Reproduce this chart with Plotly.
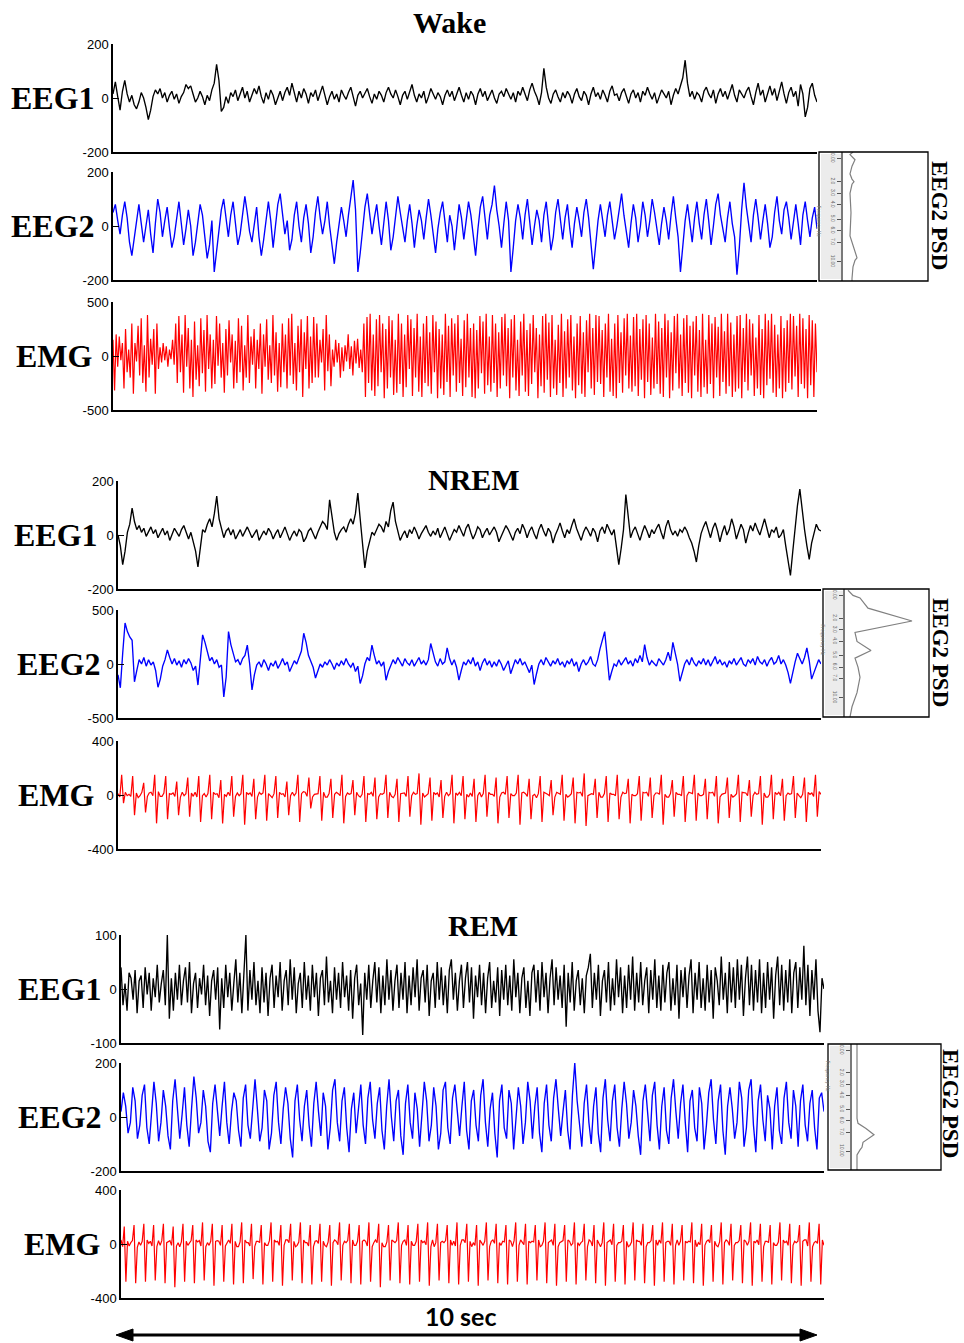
import numpy as np
import plotly.graph_objects as go

W, H = 964, 1343

# ---------------- data (values read/estimated from the picture) ----------------
stage_titles = ["Wake", "NREM", "REM"]
row_labels = ["EEG1", "EEG2", "EMG"]
psd_label = "EEG2 PSD"
scale_label = "10 sec"
psd_tick_labels = ["0.00", "2.0", "3.0", "4.0", "5.0", "6.0", "7.0", "10.00"]
psd_tick_pos = [5, 23, 32, 41, 52, 61, 70, 85]
psd_axis_title = "Frequency Hz"

wake_eeg1 = [
    15, 60, 5, -45, 25, 65, 15, -15, 10, -25,
    -40, -15, 20, 0, -35, -80, -45, 5, 30, 15,
    35, 0, 20, -15, 10, 25, -5, 15, -20, 5,
    20, 50, 35, 45, 15, -15, 0, 25, 5, -25,
    10, -10, 30, 55, 125, 65, -50, -35, 5, -20,
    20, 5, 30, -10, 15, 40, 0, 25, -15, 10,
    35, 15, 45, 5, -20, 20, -5, 30, 10, -25,
    5, 25, -10, 20, 40, 10, 55, 15, -15, 25,
    0, 35, 15, -20, 20, 5, 30, -10, 15, 45,
    10, -25, 5, 25, -5, 15, -15, 30, 10, -5,
    20, 40, 5, -30, 10, 25, 0, 15, 35, 5,
    -20, 15, -5, 25, 10, -15, 20, 40, 15, 0,
    30, 5, -25, 10, 25, -5, 20, 50, 10, -15,
    15, 0, 25, -20, 5, 35, 15, -5, 20, 5,
    -25, 10, 30, 5, 25, -10, 15, 40, 10, -15,
    20, -5, 25, 10, -25, 15, 35, 5, 25, -10,
    10, 30, 0, -20, 15, 25, 5, 35, 15, -5,
    20, -15, 25, 10, 40, 15, -10, 30, 55, 25,
    5, -25, 20, 110, 40, 0, -20, 15, 30, 5,
    -15, 20, 0, 25, 10, -20, 15, 35, 5, -10,
    25, 10, -25, 15, 40, 5, 20, -5, 30, 10,
    -15, 25, 45, 10, 15, -10, 20, 35, 5, -20,
    15, 30, 0, 20, -15, 25, 10, 40, 15, -5,
    20, -20, 5, 30, 15, 0, 25, -25, 10, 35,
    15, 45, 75, 140, 55, 5, 25, -5, 20, 10,
    -15, 25, 40, 15, 0, 30, -20, 15, 35, 5,
    25, -5, 20, 50, 10, -15, 30, 15, 0, 25,
    40, 5, -25, 20, 55, 10, 30, -15, 15, 45,
    10, 35, -10, 25, 60, 15, -20, 20, 40, 5,
    25, -30, 50, 15, -70, -35, 35, 55, 10, -15,
]

wake_eeg2 = [
    50, 80, 20, -30, 40, 90, 30, -60, -110, -40,
    20, 80, 10, -60, 0, 60, -30, -100, 10, 100,
    50, -40, 20, 70, -10, -80, -40, 30, 90, 10,
    -70, -10, 60, 0, -110, -60, 10, 80, 40, -50,
    -120, -70, 20, -170, -90, 0, 60, 100, 20, -40,
    40, 90, 10, -70, -30, 50, 110, 50, -20, -60,
    10, 70, -40, -110, -50, 30, 90, 20, -80, 0,
    80, 120, 40, -30, 20, -90, -50, 40, 90, 0,
    -60, 30, 80, 10, -100, -40, 50, 110, 30, -30,
    20, 90, 0, -80, -140, -60, 10, 70, 20, -40,
    40, 100, 170, 60, -170, -100, 0, 70, 120, 40,
    -30, 30, 80, 0, -70, 10, 90, 20, -90, -40,
    40, 110, 50, -10, -60, 20, 80, 10, -80, 0,
    60, 20, -50, 30, 100, 40, -40, -100, -10, 50,
    90, 10, -60, 40, 0, -90, 10, 80, 30, -50,
    20, 90, 40, -40, -110, -10, 70, 110, 20, -50,
    40, 80, 150, 60, 0, -80, 10, 90, 20, -170,
    -80, 20, 80, 30, -50, 40, 100, 10, -70, 0,
    60, 20, -60, 40, 90, 0, -90, -40, 50, 100,
    20, -50, 30, 80, -10, -80, 10, 70, 20, -40,
    50, 100, 30, -60, -160, -70, 20, 80, 10, -40,
    40, 90, 20, -50, 0, 70, 120, 40, -30, -80,
    10, 80, 30, -60, 0, 90, 40, -40, 20, 100,
    50, -10, -70, 10, 70, 20, -50, 40, 110, 30,
    -40, -170, -80, 20, 80, 0, -60, 30, 90, 10,
    -50, 40, 100, 20, -70, 0, 80, 120, 40, -10,
    -60, 30, 90, 10, -40, -180, -80, 60, 160, 70,
    0, -60, 40, 100, 30, -50, 20, 80, 10, -80,
    -40, 50, 110, 20, -30, 60, 90, 30, -50, 20,
    80, 10, -70, 40, 90, 20, -40, 30, 70, -10,
]

wake_emg = [
    150, -320, 200, -100, 180, -40, 120, -300, 250, -150,
    60, -200, 300, -350, 120, -50, 280, -180, 350, -250,
    100, -330, 380, -200, 160, -80, 250, -350, 300, -120,
    80, -60, 120, -40, 90, -100, 60, -30, 150, -80,
    300, -250, 370, -150, 200, -340, 380, -100, 260, -300,
    150, -380, 320, -220, 100, -280, 350, -160, 240, -330,
    380, -120, 200, -300, 150, -260, 370, -90, 300, -200,
    120, -340, 250, -180, 330, -60, 200, -300, 140, -250,
    350, -150, 280, -320, 100, -200, 380, -250, 180, -80,
    250, -300, 150, -120, 300, -350, 200, -100, 340, -220,
    100, -250, 380, -180, 220, -330, 120, -290, 300, -150,
    200, -300, 350, -180, 390, -260, 120, -320, 280, -150,
    340, -380, 220, -120, 370, -300, 180, -250, 360, -200,
    300, -200, 150, -60, 250, -320, 380, -140, 200, -280,
    60, -100, 150, -60, 120, -200, 80, -140, 100, -50,
    200, -120, 90, -180, 140, -70, 160, -110, 60, -150,
    300, -380, 360, -250, 390, -320, 200, -370, 340, -280,
    380, -150, 300, -390, 250, -300, 370, -200, 330, -360,
    150, -340, 390, -260, 300, -380, 200, -290, 380, -120,
    340, -370, 260, -200, 390, -330, 180, -380, 300, -250,
    370, -280, 220, -350, 380, -150, 320, -390, 250, -300,
    200, -360, 390, -240, 280, -380, 350, -180, 300, -330,
    380, -250, 160, -370, 330, -290, 390, -200, 260, -380,
    300, -390, 240, -300, 370, -160, 320, -350, 390, -270,
    180, -330, 380, -250, 300, -380, 220, -300, 360, -180,
    390, -280, 260, -390, 340, -200, 380, -320, 150, -370,
    320, -180, 390, -330, 240, -370, 300, -260, 380, -150,
    260, -390, 200, -280, 370, -340, 390, -220, 310, -380,
    380, -300, 150, -360, 290, -250, 390, -380, 230, -300,
    340, -200, 380, -320, 180, -390, 300, -270, 370, -350,
    220, -380, 330, -150, 390, -300, 260, -360, 380, -240,
    370, -260, 240, -380, 300, -200, 390, -330, 160, -370,
    300, -390, 380, -250, 220, -340, 350, -180, 390, -300,
    190, -330, 360, -280, 390, -370, 250, -220, 340, -390,
    380, -240, 300, -360, 170, -300, 390, -260, 320, -350,
    260, -380, 390, -200, 330, -390, 220, -320, 370, -160,
    390, -300, 200, -370, 350, -250, 380, -340, 280, -390,
    320, -180, 370, -330, 240, -380, 390, -290, 150, -350,
    380, -260, 300, -390, 360, -200, 270, -370, 390, -240,
    230, -350, 390, -280, 310, -380, 200, -330, 370, -300,
    380, -390, 260, -240, 390, -320, 340, -180, 300, -370,
    170, -300, 380, -360, 250, -390, 390, -270, 330, -210,
    390, -340, 290, -380, 200, -300, 370, -390, 260, -330,
    330, -250, 390, -310, 370, -190, 280, -380, 390, -260,
    350, -300, 250, -390, 380, -270, 330, -380, 300, -150,
]

nrem_eeg1 = [
    0, -40, -110, -60, 10, 40, 100, 50, 20, 35,
    10, 25, -5, 15, 30, 5, 20, -10, 10, 25,
    0, 15, -20, 5, 25, 10, -5, 20, 35, 10,
    -15, 10, -30, -60, -118, -40, 20, 10, 40, 60,
    30, 80, 144, 60, 20, -10, 15, 25, 0, 20,
    -15, 5, 20, -5, 15, 30, 10, -10, 5, 20,
    -20, -5, 15, 0, 25, 10, -15, 5, 20, -10,
    10, 30, 5, -20, 0, 15, -5, 20, 10, -25,
    -10, 15, 25, 5, -15, 10, 30, 50, 40, 20,
    130, 60, 10, -20, 5, 20, 30, 10, 40, 60,
    40, 80, 155, 60, -40, -122, -60, -20, 10, 0,
    20, 40, 30, 10, 50, 30, 90, 122, 50, 10,
    -20, 0, 15, -10, 20, 5, 30, 10, -15, 5,
    20, 35, 10, -5, 15, 0, 25, -10, 10, 30,
    5, -20, 0, 20, 10, 35, 15, -5, 25, 40,
    10, -15, 5, 30, 20, -10, 10, 25, 0, 15,
    30, 10, -25, -5, 15, 35, 20, 0, -20, 10,
    25, 5, 40, 20, -10, 15, 30, 5, -15, 20,
    40, 15, -5, 25, 10, -30, 0, 20, 45, 15,
    -10, 20, 5, 35, 60, 25, 0, -20, 10, 30,
    15, -5, 25, 10, -25, 15, 30, 5, 40, 20,
    0, 20, -40, -110, -50, 20, 150, 60, -10, 15,
    30, 5, -20, 10, 35, 15, -10, 20, 5, 25,
    40, 10, -15, 30, 55, 20, 0, 15, -5, 20,
    10, 30, 15, -10, -30, -60, -100, -40, 5, 30,
    50, 20, -10, 25, 45, 15, -25, 10, 35, 0,
    20, 60, 30, -15, 10, 40, 20, -30, 5, 35,
    15, 45, 20, 0, 30, 60, 25, -10, 20, 10,
    30, -10, 0, 20, -40, -100, -150, -60, 40, 110,
    170, 90, 20, -40, -90, -30, 10, 40, 20, 15,
]

nrem_eeg2 = [
    -100, -220, 100, 380, 300, 250, 220, -165, -60, 40,
    0, 60, -20, 40, -10, 20, -60, -215, -140, -20,
    40, 130, 60, 0, 50, -10, 30, -30, 40, 0,
    50, 10, -60, -20, -195, 60, 270, 200, 100, 30,
    60, 0, 40, -30, -10, -305, -120, 300, 180, 90,
    20, 40, -10, 50, 80, 175, 0, -240, -100, -10,
    20, -30, 40, 0, -60, 10, -20, 30, -40, 0,
    50, -10, 20, -70, -20, 30, 0, 60, 120, 285,
    200, 80, 20, -30, -130, -70, 0, -30, 20, -10,
    40, 0, -50, 10, -20, 30, -10, 50, 0, -30,
    10, -70, -20, -180, -110, 0, 60, 30, 175, 80,
    0, 30, -20, 20, -150, -70, -10, 40, 0, 60,
    20, -20, 50, 10, -10, 40, -20, 20, 60, 0,
    30, -10, 40, 190, 90, 20, -20, 50, 0, 20,
    150, 50, -10, 40, -30, -150, -60, 20, -10, 40,
    0, 60, -20, 20, -60, 10, 50, -10, 30, -30,
    20, -20, 40, 0, -60, -10, 30, -90, -20, 40,
    0, 50, -10, 20, -30, -80, -10, -190, -90, 0,
    40, -10, 60, 20, -20, 30, 0, 50, -10, 20,
    -30, 30, 0, 50, -20, 20, -70, 0, 40, -10,
    20, 70, 0, -20, 40, 140, 220, 300, 80, -150,
    -70, 0, -20, 40, -10, 20, 60, 0, 30, -20,
    50, 10, 80, 20, 180, 60, -10, 30, 0, -20,
    50, 20, -10, 40, 110, 30, 200, 100, 0, -160,
    -80, 0, 40, -10, 60, 10, -20, 30, 0, 50,
    -10, 40, -20, 20, 70, 0, 40, -10, 20, -30,
    30, 0, 50, -10, 20, 60, 0, -20, 40, 10,
    50, -10, 70, 20, 0, 40, -20, 30, 60, 0,
    20, 80, 0, 40, -10, -80, -180, -70, 20, 100,
    40, 0, 60, 150, 30, -140, -80, -20, 40, 0,
]

nrem_emg = [
    10, -15, 150, -60, 20, -5, 5, -10, 140, -150, 15, -20, -5, 20, 90, -130, -10, 15, 20, -5, 150, -210, 25, -10,
    -10, 15, 140, -180, 10, 5, 15, -10, 100, -150, -15, 20, -5, 10, 130, -160, 15, -10, 20, -15, 140, -200, -5, 10,
    -15, 10, 150, -180, 20, 5, 10, -20, 110, -210, 5, -10, 20, -5, 140, -160, -10, 15, -5, 10, 150, -220, 20, 5,
    15, -10, 120, -180, -15, 20, 5, 15, 150, -190, 10, -5, -20, 10, 140, -170, 20, 5, 10, -15, 100, -150, -5, 20,
    -5, 15, 150, -200, 10, 25, 20, -10, 130, -100, -15, 5, 5, 10, 140, -190, 20, -15, -15, 10, 120, -170, 5, 20,
    10, -5, 150, -210, -10, 15, 5, 10, 110, -150, 20, -5, -15, 5, 140, -200, 10, 5, 20, -10, 130, -180, -15, 10,
    5, 15, 150, -170, 20, -10, -20, 5, 120, -200, 10, 15, 15, -10, 140, -160, -5, 20, 5, 10, 160, -220, 15, -15,
    -5, 10, 130, -190, 20, 5, 15, -15, 110, -170, -10, 20, -5, 10, 150, -210, 15, 0, 20, -5, 140, -180, 5, -15,
    15, -10, 120, -200, -5, 20, -15, 10, 150, -160, 20, 5, 5, -10, 130, -210, -15, 15, 20, 5, 140, -170, 10, -5,
    -5, 15, 150, -220, 15, 20, 10, -10, 120, -180, -5, 5, -20, 10, 140, -200, 20, 15, 5, -5, 110, -150, -15, 20,
    15, 5, 150, -190, 5, -15, -5, 10, 130, -210, 20, 15, 20, -10, 160, -230, -5, 5, 10, 5, 120, -170, 20, -15,
    -15, 10, 140, -200, 15, 5, 5, -5, 150, -180, -15, 20, 10, 15, 120, -210, 5, -5, -5, 10, 140, -190, 20, 15,
    20, -10, 130, -170, -5, 15, 15, 5, 150, -220, 5, -15, -15, 10, 110, -160, 20, 5, 5, -5, 140, -200, -5, 20,
    15, 10, 150, -190, 15, -5, -5, 5, 120, -180, 20, 15, 20, -10, 140, -210, -15, 5, 10, 15, 130, -170, 5, -15,
    -5, 10, 150, -200, 20, 15, 15, -5, 110, -160, -5, 20, 5, 10, 140, -220, 15, -15, -15, 5, 150, -180, 20, 5,
    20, -5, 120, -190, -5, 15, 5, 10, 140, -170, 15, -5, -20, 5, 130, -200, 20, 5, 15, -10, 150, -160, 25, 5,
]

rem_eeg1 = [
    40, -30, 10, -40, 30, 20, -20, 35, -45, 15,
    25, -35, 40, -10, 30, -40, 20, -15, 45, -25,
    10, 35, -30, 100, -55, 20, -40, 30, -20, 45,
    -30, 15, 40, -25, 50, -45, 10, 30, -35, 20,
    -10, 45, -30, 25, -50, 15, 35, -20, 40, -75,
    20, -35, 45, -15, 30, -40, 10, 55, -25, 30,
    -45, 20, 100, -40, 35, -20, 50, -30, 15, -45,
    40, -25, 30, -50, 20, 45, -35, 25, -15, 50,
    -40, 15, 35, -30, 55, -20, 40, -45, 10, 30,
    -35, 50, -20, 25, -40, 45, -15, 30, -50, 20,
    35, -30, 60, -25, 15, -45, 40, -20, 30, -35,
    50, -15, 25, -40, 35, -55, 20, 45, -30, 10,
    -85, 30, -20, 45, -35, 15, 50, -25, 40, -45,
    25, -30, 55, -20, 35, -40, 15, 45, -35, 30,
    -20, 50, -45, 25, -30, 40, -15, 55, -40, 20,
    35, -25, 45, -50, 15, 30, -35, 50, -20, 40,
    -30, 25, -45, 35, 55, -20, 30, -40, 15, 45,
    -35, 20, 50, -25, 40, -55, 25, -15, 45, -30,
    30, -45, 20, 50, -35, 15, -25, 40, -50, 35,
    -20, 45, -30, 25, -40, 55, -15, 30, -45, 20,
    40, -35, 15, -50, 30, 45, -25, 35, -40, 50,
    -15, 30, -45, 20, 55, -30, 40, -20, 25, -35,
    45, -70, 30, -25, 50, -40, 15, 35, -30, 20,
    -45, 25, 40, 65, -35, 30, -20, 45, -50, 15,
    35, -25, 50, -40, 20, -30, 55, -15, 40, -45,
    25, -35, 45, -20, 60, -40, 30, -25, 50, -30,
    15, 40, -45, 35, -20, 55, -35, 25, -40, 45,
    -25, 30, 50, -40, 20, -30, 45, -55, 35, -15,
    40, -35, 25, 55, -45, 30, -20, 50, -35, 20,
    -40, 45, -25, 35, -55, 40, 15, -30, 60, -20,
    30, -45, 50, -25, 40, -35, 55, -20, 45, -50,
    20, 60, -30, 45, -40, 35, -25, 55, -45, 30,
    -35, 50, -20, 40, -55, 25, 60, -30, 45, -40,
    35, -25, 55, -45, 30, 50, -35, 40, -20, 80,
    -30, 45, -50, 35, -20, 55, -40, -80, 20, 0,
]

rem_eeg2 = [
    20, 90, 40, -60, -20, 110, 60, -80, -30, 80,
    120, -40, -100, 20, 130, 50, -90, -20, 100, 40,
    -70, -120, 60, 140, 20, -80, 10, 110, -30, -110,
    30, 150, 70, -60, -20, 100, 40, -90, -130, 50,
    120, 10, -70, 40, 130, -20, -100, 20, 90, 60,
    -50, -110, 70, 120, -30, -80, 50, 140, 30, -90,
    -40, 100, 60, -120, -60, 80, 130, -20, -100, 30,
    110, 50, -80, -150, 60, 120, -10, -90, 40, 100,
    -30, -110, 50, 130, 20, -70, 90, 40, -120, -40,
    100, 140, -20, -90, 60, 110, -40, -130, 30, 90,
    -60, 20, 120, -30, -100, 70, 130, -10, -80, 50,
    110, -50, -120, 40, 140, 0, -90, 60, 100, -70,
    -140, 50, 120, -20, -80, 90, 30, -110, 20, 130,
    60, -90, -30, 110, 40, -120, -60, 100, 130, -40,
    -100, 70, 120, 10, -70, 40, 130, -50, -120, 60,
    100, -30, -90, 80, 140, -20, -110, 30, 90, -60,
    -150, 60, 120, -40, -80, 100, 50, -120, 10, 110,
    40, -100, -20, 130, 60, -80, 40, 110, -60, -130,
    50, 120, -30, -90, 70, 140, 30, -70, 20, 100,
    -50, -120, 80, 200, 60, -40, -110, 50, 120, -20,
    -100, 40, 110, -60, -130, 70, 140, -10, -90, 60,
    120, -40, -110, 30, 130, 50, -80, -20, 100, 40,
    -70, -140, 60, 120, 0, -90, 80, 130, -30, -120,
    40, 110, -50, -100, 70, 140, 20, -80, 50, 120,
    -20, -130, 60, 100, -40, -90, 110, 50, -120, -30,
    90, 140, -10, -100, 60, 120, -50, -140, 40, 110,
    30, -80, -20, 130, 70, -110, -40, 100, 140, -30,
    -130, 60, 120, -10, -90, 80, 30, -120, 40, 110,
    -50, -100, 70, 130, -20, -80, 100, 40, -110, 60,
    120, -30, -90, 50, 100, -40, -120, 70, 90, 20,
]

rem_emg = [
    30, -20, 130, -280, 20, -15, 10, 25, 140, -290, -25, 15, -10, 20, 150, -280, 30, 5, 20, -15, 140, -270, -20, 25,
    -10, 25, 150, -290, 10, 20, 25, -10, 130, -320, -15, 10, -20, 15, 150, -280, 20, -10, 10, 25, 140, -290, 30, 15,
    25, -15, 160, -270, -20, 10, -10, 20, 150, -310, 20, 25, 20, -10, 140, -280, -15, 10, 30, 5, 150, -300, 20, -20,
    -20, 15, 160, -290, 30, 10, 10, -15, 150, -260, -20, 20, 20, 10, 140, -300, 10, -10, -10, 25, 160, -280, 30, 15,
    20, -10, 140, -310, -10, 30, 30, 10, 150, -270, 20, -20, -10, 15, 160, -290, 30, 10, 10, -15, 140, -300, -20, 20,
    25, 5, 150, -280, 20, -10, -20, 15, 140, -310, 10, 30, 20, -5, 160, -270, -10, 20, 10, 25, 150, -290, 30, -10,
    -10, 20, 140, -300, 20, 30, 20, -15, 160, -280, -20, 10, 30, 10, 150, -320, 10, -20, -20, 15, 140, -270, 30, 20,
    10, 25, 160, -290, -10, 20, 30, -10, 140, -300, 20, -10, -10, 20, 150, -280, 30, 10, 20, -5, 160, -310, -20, 30,
    -20, 10, 150, -270, 10, 20, 10, 25, 140, -290, 30, -10, 20, -15, 160, -300, -10, 30, 30, 10, 150, -280, 20, -20,
    10, -10, 140, -310, 30, 10, -10, 20, 160, -270, -20, 20, 30, 5, 150, -290, 10, -10, 20, 15, 140, -300, 30, 20,
    -20, 25, 160, -280, -10, 30, 10, -5, 150, -300, 20, 10, 20, 15, 140, -270, 30, -20, -10, 20, 160, -290, 10, 20,
    30, -10, 150, -310, -20, 10, 20, 25, 140, -280, 30, 20, -10, 5, 160, -300, 10, -10, 10, 20, 150, -270, -20, 30,
    20, -15, 140, -290, 30, 10, -20, 10, 160, -310, 10, 20, 30, -5, 150, -280, -10, 10, 10, 20, 140, -300, 20, -20,
    -10, 15, 160, -270, 30, 20, 20, -10, 150, -290, -20, 10, 10, 25, 140, -310, 30, -10, 30, 5, 160, -280, 10, 20,
    20, -10, 150, -300, -10, 30, -10, 20, 140, -270, 20, 10, 20, 15, 160, -290, 30, -20, 10, -5, 150, -310, -10, 20,
    30, 10, 140, -280, 20, -10, -20, 15, 160, -300, 10, 30, 20, -10, 150, -270, -10, 10, 10, 25, 140, -290, 30, 20,
    -10, 20, 160, -310, 20, 10, 30, -5, 150, -280, -20, 20, 20, 10, 140, -300, 10, -10, -10, 15, 160, -270, 30, 10,
    20, -10, 150, -290, -10, 20, 10, 20, 140, -310, 20, 30, 30, -15, 160, -280, -20, 10, 20, 5, 150, -300, 30, -10,
]

psd_wake_pos = [0, 2, 6, 11, 17, 21, 23, 25, 32, 47, 65, 70, 74, 82, 84, 89, 98, 100]
psd_wake_pow = [10, 7, 12, 9, 7, 9, 11, 9, 7, 8, 7, 9, 11, 14, 12, 10, 9, 9]
psd_nrem_pos = [1, 5, 7, 12, 15, 25, 34, 41, 48, 54, 61, 69, 81, 92, 100]
psd_nrem_pow = [3, 8, 15, 20, 23, 67, 10, 12, 26, 10, 13, 15, 12, 7, 5]
psd_rem_pos = [0, 30, 59, 63, 67, 72, 75, 78, 82, 84, 88, 100]
psd_rem_pow = [5, 5, 5, 6, 14, 22, 17, 11, 10, 8, 5, 5]

# ---------------- layout geometry (pixels) ----------------
def px(x):
    return x / W


def py(y):
    return 1 - y / H


stages = [
    dict(x0=113, x1=817, rows=[(44, 152, 200), (172, 280, 200), (302, 410, 500)],
         data=[wake_eeg1, wake_eeg2, wake_emg], title=(449, 22),
         labels_right=[97, 97, 95],
         psd=dict(box=(819, 152, 928, 281), line=843, pos=psd_wake_pos, pw=psd_wake_pow, txt=(940, 215))),
    dict(x0=118, x1=821, rows=[(481, 589, 200), (610, 718, 500), (741, 849, 400)],
         data=[nrem_eeg1, nrem_eeg2, nrem_emg], title=(474, 480),
         labels_right=[100, 103, 97],
         psd=dict(box=(823, 589, 929, 717), line=845, pos=psd_nrem_pos, pw=psd_nrem_pow, txt=(941, 652))),
    dict(x0=121, x1=824, rows=[(935, 1043, 100), (1063, 1171, 200), (1190, 1298, 400)],
         data=[rem_eeg1, rem_eeg2, rem_emg], title=(483, 925),
         labels_right=[104, 104, 103],
         psd=dict(box=(828, 1044, 941, 1170), line=852, pos=psd_rem_pos, pw=psd_rem_pow, txt=(951, 1103))),
]
colors = ["black", "#0000ff", "#ff0000"]
widths = [1.35, 1.35, 1.2]

fig = go.Figure()
layout = {}
annotations = []
shapes = []
serif = "Liberation Serif, Times New Roman, serif"
sans = "Liberation Sans, Arial, sans-serif"

k = 0
for si, st in enumerate(stages):
    for ri, (yt, yb, ymax) in enumerate(st["rows"]):
        k += 1
        vals = st["data"][ri]
        xa = "x" if k == 1 else f"x{k}"
        ya = "y" if k == 1 else f"y{k}"
        t = np.linspace(0, 10, len(vals))
        fig.add_trace(go.Scatter(x=t, y=vals, mode="lines", xaxis=xa, yaxis=ya,
                                 line=dict(color=colors[ri], width=widths[ri]), hoverinfo="skip",
                                 showlegend=False))
        sfx = "" if k == 1 else str(k)
        layout["xaxis" + sfx] = dict(domain=[px(st["x0"]), px(st["x1"])], range=[0, 10], anchor=ya,
                                     showline=True, linecolor="black", linewidth=1.5, ticks="",
                                     showticklabels=False, showgrid=False, zeroline=False,
                                     automargin=False)
        layout["yaxis" + sfx] = dict(domain=[py(yb), py(yt)], range=[-ymax, ymax], anchor=xa,
                                     showline=True, linecolor="black", linewidth=1.5,
                                     ticks="inside", ticklen=6, tickwidth=1.3, tickcolor="black",
                                     tickvals=[-ymax, 0, ymax],
                                     ticktext=[f"-{ymax}", "0", f"{ymax}"],
                                     tickfont=dict(family=sans, size=13, color="black"),
                                     showgrid=False, zeroline=False, automargin=False)
        annotations.append(dict(x=px(st["labels_right"][ri]), y=py((yt + yb) / 2), xref="paper", yref="paper",
                                text=f"<b>{row_labels[ri]}</b>", showarrow=False, xanchor="right",
                                yanchor="middle", font=dict(family=serif, size=32, color="black")))
    annotations.append(dict(x=px(st["title"][0]), y=py(st["title"][1]), xref="paper", yref="paper",
                            text=f"<b>{stage_titles[si]}</b>", showarrow=False, xanchor="center",
                            yanchor="middle", font=dict(family=serif, size=30, color="black")))
    # PSD inset
    p = st["psd"]
    bx0, by0, bx1, by1 = p["box"]
    k += 1
    xa = f"x{k}"
    ya = f"y{k}"
    fig.add_trace(go.Scatter(x=p["pw"], y=p["pos"], mode="lines", xaxis=xa, yaxis=ya,
                             line=dict(color="#808080", width=1.2), hoverinfo="skip", showlegend=False))
    shapes.append(dict(type="rect", xref="paper", yref="paper", x0=px(bx0 + 2), x1=px(p["line"] - 1),
                       y0=py(by1 - 2), y1=py(by0 + 2), fillcolor="#ececec", line=dict(width=0), layer="below"))
    layout[f"xaxis{k}"] = dict(domain=[px(p["line"]), px(bx1 - 1)], range=[0, bx1 - 1 - p["line"]], anchor=ya,
                               showline=False, ticks="", showticklabels=False, showgrid=False, zeroline=False,
                               automargin=False)
    layout[f"yaxis{k}"] = dict(domain=[py(by1), py(by0)], range=[100, 0], anchor=xa,
                               showline=True, linecolor="#7a7a7a", linewidth=2.2,
                               ticks="outside", ticklen=4, tickwidth=1, tickcolor="#555",
                               tickvals=psd_tick_pos, ticktext=psd_tick_labels, tickangle=90,
                               tickfont=dict(family=sans, size=5, color="#666"),
                               showgrid=False, zeroline=False, automargin=False)
    shapes.append(dict(type="rect", xref="paper", yref="paper", x0=px(bx0), x1=px(bx1),
                       y0=py(by1), y1=py(by0), line=dict(color="black", width=1.3)))
    annotations.append(dict(x=px(bx0 + 5), y=py(by0 + 0.4 * (by1 - by0)), xref="paper", yref="paper",
                            text=psd_axis_title, textangle=90, showarrow=False,
                            font=dict(family=sans, size=5, color="#777")))
    annotations.append(dict(x=px(p["txt"][0]), y=py(p["txt"][1]), xref="paper", yref="paper",
                            text=f"<b>{psd_label}</b>", textangle=90, showarrow=False,
                            xanchor="center", yanchor="middle",
                            font=dict(family=serif, size=23, color="black")))

# 10 sec scale arrow
ay = 1335
shapes.append(dict(type="line", xref="paper", yref="paper", x0=px(128), x1=px(805), y0=py(ay), y1=py(ay),
                   line=dict(color="black", width=3)))
shapes.append(dict(type="path", xref="paper", yref="paper",
                   path=f"M {px(116)} {py(ay)} L {px(133)} {py(ay - 6)} L {px(133)} {py(ay + 6)} Z",
                   fillcolor="black", line=dict(color="black", width=1)))
shapes.append(dict(type="path", xref="paper", yref="paper",
                   path=f"M {px(817)} {py(ay)} L {px(800)} {py(ay - 6)} L {px(800)} {py(ay + 6)} Z",
                   fillcolor="black", line=dict(color="black", width=1)))
annotations.append(dict(x=px(460), y=py(1316), xref="paper", yref="paper", text=f"<b>{scale_label}</b>",
                        showarrow=False, xanchor="center", yanchor="middle",
                        font=dict(family="Lato, Carlito, sans-serif", size=25, color="black")))

fig.update_layout(width=W, height=H, margin=dict(l=0, r=0, t=0, b=0, autoexpand=False),
                  paper_bgcolor="white", plot_bgcolor="rgba(0,0,0,0)",
                  annotations=annotations, shapes=shapes, showlegend=False, **layout)
fig.write_html("out.html", config={"displayModeBar": False},
               post_script="document.body.style.margin='0';document.body.style.overflow='hidden';")
